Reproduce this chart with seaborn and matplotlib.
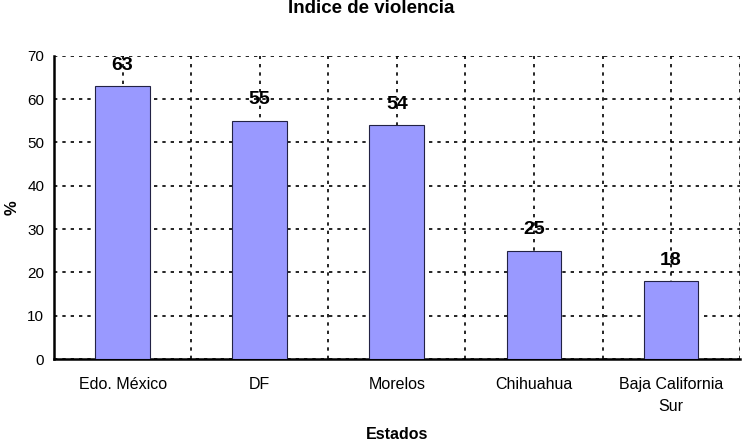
import matplotlib
matplotlib.use("Agg")
import matplotlib.pyplot as plt
import seaborn as sns
import pandas as pd

categories = ["Edo. México", "DF", "Morelos", "Chihuahua", "Baja California\nSur"]
values = [63, 55, 54, 25, 18]
yticks = [0, 10, 20, 30, 40, 50, 60, 70]

sns.set_style("white")
plt.rcParams['font.family'] = ['Liberation Sans', 'DejaVu Sans']
plt.rcParams['text.color'] = 'black'
plt.rcParams['axes.labelcolor'] = 'black'
plt.rcParams['xtick.color'] = 'black'
plt.rcParams['ytick.color'] = 'black'

df = pd.DataFrame({"Estado": categories, "Valor": values})

fig = plt.figure(figsize=(7.42, 4.44), dpi=100)
ax = fig.add_axes([0.0728, 0.1914, 0.924, 0.683])

sns.barplot(data=df, x="Estado", y="Valor", color="#9999FF", saturation=1,
            width=0.4, edgecolor="#222244", linewidth=0.8, ax=ax, zorder=3)

n = len(categories)
ax.set_xlim(-0.5, n - 0.5)
ax.set_ylim(0, 70)
ax.set_yticks(yticks)
ax.set_yticklabels([str(t) for t in yticks], fontsize=11)
ax.set_xticks(range(n))
ax.set_xticklabels(categories, fontsize=11.5, linespacing=1.6)
ax.set_xticks([i + 0.5 for i in range(-1, n)], minor=True)

ax.tick_params(axis="x", which="major", length=0, pad=13)
ax.tick_params(axis="x", which="minor", length=5, width=1.2, direction="out", color="black")
ax.tick_params(axis="y", which="major", length=5, width=1.2, direction="out", color="black", pad=2)

grid_kw = dict(color="black", linestyle=(0, (2, 3)), linewidth=1.2, zorder=0)
ax.yaxis.grid(True, **grid_kw)
ax.xaxis.grid(True, which="both", **grid_kw)
ax.set_axisbelow(True)

for s in ["left", "bottom"]:
    ax.spines[s].set_color("black")
    ax.spines[s].set_linewidth(1.8)
for s in ["top", "right"]:
    ax.spines[s].set_visible(False)
ax.axvline(n - 0.5, color="#555555", linestyle=(0, (2, 2)), linewidth=1.0)

for i, v in enumerate(values):
    ax.annotate(str(v), xy=(i, v), xytext=(0, 15), textcoords="offset points",
                ha="center", va="center", fontsize=14, fontweight="bold", zorder=5)

ax.set_xlabel("Estados", fontsize=11.5, fontweight="bold")
ax.xaxis.set_label_coords(0.5, -0.225)
ax.set_ylabel("%", fontsize=12, fontweight="bold")
ax.yaxis.set_label_coords(-0.05, 0.5)

fig.text(0.5, 0.999, "Índice de violencia", ha="center", va="top",
         fontsize=13.5, fontweight="bold")

fig.savefig("out.png", dpi=100)
